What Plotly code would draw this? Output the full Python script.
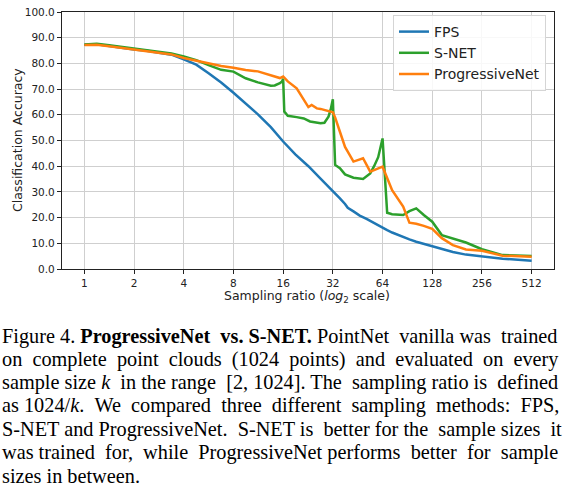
import math
import plotly.graph_objects as go

# Sample sizes k (out of 1024 points); sampling ratio = 1024 / k
fps_k = [1024, 861, 724, 609, 512, 430, 362, 304, 256, 215, 181, 152, 128, 108, 91, 76,
         64, 54, 45, 38, 32, 29, 27, 26, 24, 22, 20, 18, 16, 15, 14, 13, 12, 11, 10, 9,
         8, 7, 6, 5, 4, 3, 2]
fps_acc = [87.3, 87.4, 86.8, 86.0, 85.4, 84.9, 84.3, 83.4, 81.6, 79.5, 76.2, 72.6, 68.6, 64.5, 60.2, 55.2,
           49.6, 44.6, 40.0, 35.2, 30.5, 27.5, 25.3, 23.8, 22.4, 20.8, 19.5, 17.8, 16.0, 15.1, 14.2, 13.3, 12.4, 11.5, 10.6, 9.8,
           8.8, 7.6, 6.6, 5.6, 4.9, 4.0, 3.2]

snet_k = [1024, 861, 724, 609, 512, 430, 362, 304, 256, 215, 181, 152, 128, 108, 91, 76,
          72, 67, 65, 64, 63, 60, 53, 48, 44, 40, 38, 36, 34, 33, 32, 31, 29, 27, 24, 21,
          19, 18, 17, 16, 15, 14, 13, 12, 11, 10, 9, 8, 7, 6, 5, 4, 3, 2]
snet_acc = [87.4, 87.6, 87.1, 86.5, 85.9, 85.3, 84.7, 83.9, 82.7, 81.3, 79.3, 77.5, 76.8, 74.2, 72.6, 71.3,
            71.4, 72.3, 73.0, 74.0, 61.3, 59.6, 59.1, 58.6, 57.4, 56.8, 56.7, 56.9, 59.3, 62.0, 66.0, 40.5, 39.2, 36.8, 35.5, 35.0,
            37.2, 40.0, 43.5, 50.8, 21.9, 21.3, 21.1, 21.0, 22.5, 23.6, 21.0, 18.4, 13.2, 11.8, 10.3, 7.7, 5.4, 5.1]

prog_k = [1024, 861, 724, 609, 512, 430, 362, 304, 256, 215, 181, 152, 128, 108, 91, 76,
          67, 64, 60, 53, 48, 45, 43, 40, 38, 36, 34, 32, 31, 30, 29, 27, 24, 21, 19, 18,
          17, 16, 14, 13, 12, 11, 10, 9, 8, 7, 6, 5, 4, 3, 2]
prog_acc = [87.2, 87.3, 86.7, 86.1, 85.4, 84.8, 84.3, 83.5, 82.1, 81.0, 80.0, 79.0, 78.3, 77.4, 76.9, 75.5,
            74.3, 74.9, 73.0, 70.3, 66.0, 63.0, 63.8, 62.5, 62.3, 61.9, 61.4, 61.0, 59.0, 56.5, 53.4, 47.5, 41.8, 43.1, 37.9, 38.5,
            39.0, 39.8, 30.7, 27.5, 24.3, 18.0, 17.6, 16.8, 15.6, 12.0, 9.3, 7.6, 7.1, 5.2, 4.8]

ratio_ticks = [1, 2, 4, 8, 16, 32, 64, 128, 256, 512]
acc_ticks = [0, 10, 20, 30, 40, 50, 60, 70, 80, 90, 100]

caption = [
    "Figure 4. <b>ProgressiveNet vs. S-NET.</b> PointNet vanilla was trained",
    "on complete point clouds (1024 points) and evaluated on every",
    "sample size <i>k</i> in the range [2, 1024]. The sampling ratio is defined",
    "as 1024/<i>k</i>. We compared three different sampling methods: FPS,",
    "S-NET and ProgressiveNet. S-NET is better for the sample sizes it",
    "was trained for, while ProgressiveNet performs better for sample",
    "sizes in between.",
]
# extra spaces per line to fake the justified paragraph
caption_pad = [3, 9, 4, 7, 4, 6, 0]

W, H = 565, 503
L, R, T, B = 62, 11, 12, 234
plot_w = W - L - R
plot_h = H - T - B


def px_x(x):
    return (x - L) / plot_w


def px_y(y):
    return (T + plot_h - y) / plot_h


def justify(line, extra):
    words = line.split(' ')
    gaps = len(words) - 1
    out = words[0]
    for i, w in enumerate(words[1:]):
        n = extra * (i + 1) // gaps - extra * i // gaps
        out += ' ' + '\u00a0' * n + w
    return out


fig = go.Figure()
series = [('FPS', fps_k, fps_acc, '#1f77b4'),
          ('S-NET', snet_k, snet_acc, '#2ca02c'),
          ('ProgressiveNet', prog_k, prog_acc, '#ff7f0e')]
for name, ks, acc, color in series:
    fig.add_trace(go.Scatter(x=[1024 / k for k in ks], y=acc, mode='lines', name=name,
                             line=dict(color=color, width=2.5)))

# axis titles
label_font = dict(family='DejaVu Sans', size=12.5, color='#222')
fig.add_annotation(text='Sampling ratio (<i>log</i><sub>2</sub> scale)', xref='paper', yref='paper',
                   x=px_x(307), y=px_y(296), xanchor='center', yanchor='middle',
                   showarrow=False, font=label_font)
fig.add_annotation(text='Classification Accuracy', xref='paper', yref='paper',
                   x=px_x(17), y=px_y(140), xanchor='center', yanchor='middle',
                   textangle=-90, showarrow=False, font=label_font)

# caption lines under the plot
for i, line in enumerate(caption):
    y_px = 336 + i * 23.3
    fig.add_annotation(text=justify(line, caption_pad[i]), xref='paper', yref='paper',
                       x=px_x(0), y=px_y(y_px),
                       xanchor='left', yanchor='middle', showarrow=False,
                       font=dict(family='Liberation Serif', size=20.3, color='black'))

axis_common = dict(showline=True, mirror=True, linecolor='#222', linewidth=1.2,
                   ticks='outside', ticklen=4, tickcolor='#222', automargin=False,
                   showgrid=True, gridcolor='#cfcfcf', gridwidth=1.2, zeroline=False,
                   tickfont=dict(family='DejaVu Sans', size=10.5, color='#222'))

fig.update_xaxes(type='log', range=[-0.45 * math.log10(2), 9.45 * math.log10(2)],
                 tickvals=ratio_ticks, ticktext=[str(v) for v in ratio_ticks],
                 **axis_common)
fig.update_yaxes(range=[0, 100], tickvals=acc_ticks, tickformat='.1f',
                 **axis_common)

fig.update_layout(width=W, height=H, margin=dict(l=L, r=R, t=T, b=B),
                  paper_bgcolor='white', plot_bgcolor='white',
                  font=dict(family='DejaVu Sans', color='#222'),
                  legend=dict(x=px_x(546), y=px_y(15), xanchor='right', yanchor='top',
                              bgcolor='rgba(255,255,255,0.85)', bordercolor='#d5d5d5', borderwidth=1,
                              font=dict(family='DejaVu Sans', size=14, color='#222')))

# drop the browser's default 8px body margin so the figure sits at the page corner
fig.write_html("out.html", config={'displayModeBar': False},
               post_script="document.body.style.margin='0';")
